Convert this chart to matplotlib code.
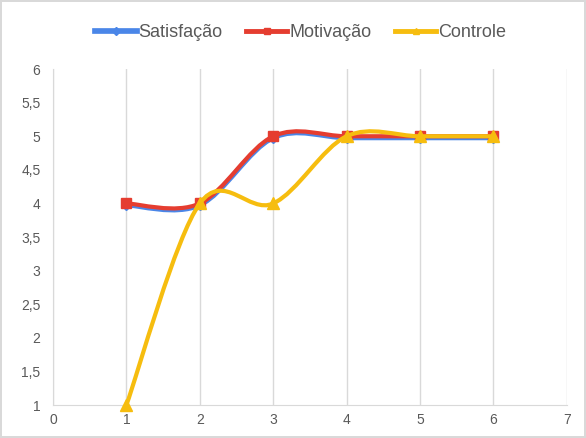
import matplotlib.pyplot as plt
import matplotlib.transforms as mtransforms
from matplotlib.path import Path
from matplotlib.patches import PathPatch
import numpy as np

plt.rcParams['font.family'] = ['Liberation Sans', 'DejaVu Sans']

x = [1, 2, 3, 4, 5, 6]
satisfacao = [4, 4, 5, 5, 5, 5]
motivacao = [4, 4, 5, 5, 5, 5]
controle = [1, 4, 4, 5, 5, 5]

c_blue = '#4a86e8'
c_red = '#e53d30'
c_yellow = '#f6bd0f'


def smooth_path(xs, ys):
    # bezier segments with catmull-rom control points (like excel "smoothed line")
    pts = np.column_stack([xs, ys]).astype(float)
    n = len(pts)
    verts = [pts[0]]
    codes = [Path.MOVETO]
    for i in range(n - 1):
        p0 = pts[i - 1] if i > 0 else pts[i]
        p1 = pts[i]
        p2 = pts[i + 1]
        p3 = pts[i + 2] if i + 2 < n else pts[i + 1]
        c1 = p1 + (p2 - p0) / 6.0
        c2 = p2 - (p3 - p1) / 6.0
        verts += [c1, c2, p2]
        codes += [Path.CURVE4] * 3
    return Path(verts, codes)


fig = plt.figure(figsize=(5.86, 4.38), dpi=100)
fig.patch.set_edgecolor('#d9d9d9')
fig.patch.set_linewidth(1.5)
ax = fig.add_axes([0.0904, 0.0753, 0.877, 0.767])

ax.set_xlim(0, 7)
ax.set_ylim(1, 6)

shift = mtransforms.offset_copy(ax.transData, fig=fig, x=0, y=-1.5, units='dots')
series = [
    (satisfacao, c_blue, 'D', 'Satisfação', 3.6, shift),
    (motivacao, c_red, 's', 'Motivação', 3.0, ax.transData),
    (controle, c_yellow, '^', 'Controle', 3.0, ax.transData),
]
handles = []
for z, (ys, col, mk, lab, lw, tr) in enumerate(series):
    ax.add_patch(PathPatch(smooth_path(x, ys), facecolor='none', edgecolor=col,
                           lw=lw, transform=tr, zorder=3 + z, capstyle='round'))
    ms = 7 if mk == 's' else (8 if mk == '^' else 5)
    ax.plot(x, ys, linestyle='none', marker=mk, color=col, markersize=ms,
            transform=tr, zorder=3.5 + z, clip_on=False)
    h, = ax.plot([], [], color=col, lw=lw + 0.5, marker=mk,
                 markersize=4, label=lab)
    handles.append(h)

ax.set_xticks(range(0, 8))
ax.set_yticks(np.arange(1, 6.01, 0.5))
ax.set_yticklabels([f'{v:g}'.replace('.', ',') for v in np.arange(1, 6.01, 0.5)])
ax.grid(axis='x', color='#d9d9d9', lw=1)
ax.set_axisbelow(True)
for s in ['top', 'right']:
    ax.spines[s].set_visible(False)
for s in ['left', 'bottom']:
    ax.spines[s].set_color('#d9d9d9')
ax.tick_params(length=0, labelsize=10, colors='#595959', pad=9)
ax.tick_params(axis='x', pad=6)

fig.legend(handles=handles, loc='center', bbox_to_anchor=(0.513, 0.925), ncol=3,
           frameon=False, fontsize=13, handlelength=2.3, handletextpad=0.1,
           columnspacing=1.3, labelcolor='#595959')

fig.savefig('out.png', dpi=100)
